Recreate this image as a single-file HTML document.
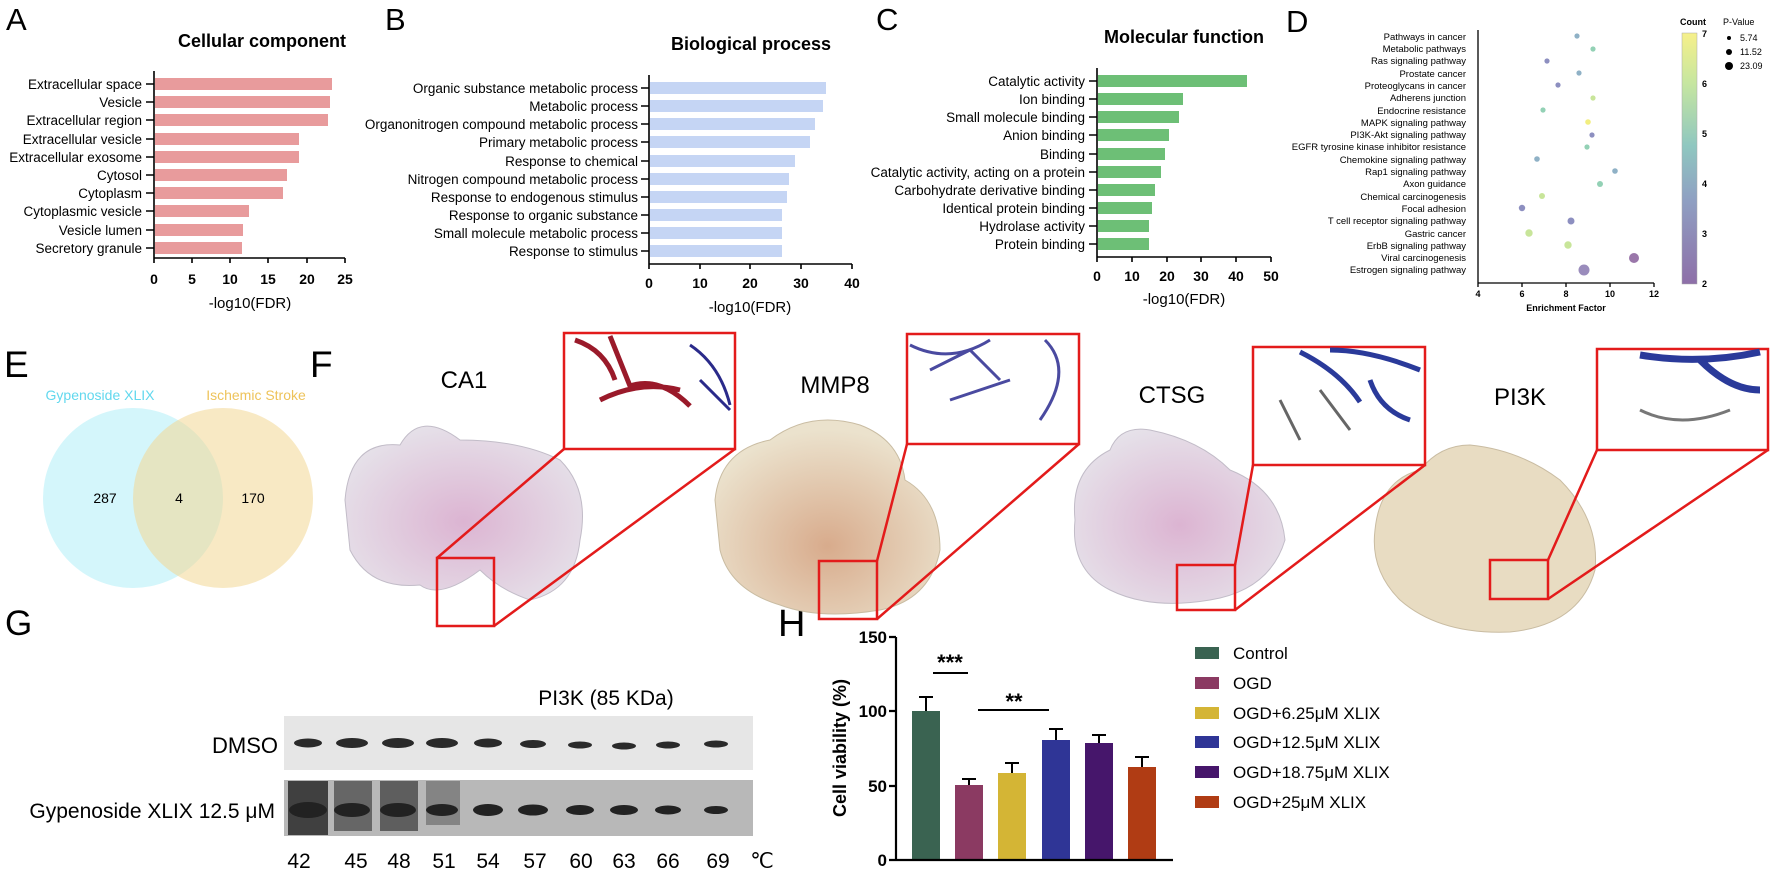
<!DOCTYPE html>
<html><head><meta charset="utf-8"><style>
html,body{margin:0;padding:0;background:#fff;overflow:hidden;}
svg{display:block;font-family:"Liberation Sans",Arial,sans-serif;}
</style></head><body>
<svg width="1772" height="876" viewBox="0 0 1772 876" xmlns="http://www.w3.org/2000/svg">
<defs>
<linearGradient id="cb" x1="0" y1="1" x2="0" y2="0">
<stop offset="0" stop-color="#8e6fa8"/><stop offset="0.33" stop-color="#8f9fc2"/>
<stop offset="0.55" stop-color="#8fc7c0"/><stop offset="0.8" stop-color="#c6e6a0"/><stop offset="1" stop-color="#f6f08a"/>
</linearGradient>
<radialGradient id="lav" cx="0.5" cy="0.55" r="0.6"><stop offset="0" stop-color="#dcb4d2"/><stop offset="1" stop-color="#e6e3ea"/></radialGradient>
<radialGradient id="beige" cx="0.5" cy="0.65" r="0.6"><stop offset="0" stop-color="#d8ab8c"/><stop offset="1" stop-color="#ebe2cd"/></radialGradient>
</defs>
<g font-size="31" fill="#000">
<text x="6" y="30">A</text><text x="385" y="30">B</text><text x="876" y="30">C</text><text x="1286" y="32">D</text>
<text x="4" y="377" font-size="37">E</text><text x="310" y="377" font-size="37">F</text><text x="5" y="635" font-size="35">G</text><text x="778" y="636" font-size="38">H</text>
</g>
<!-- Panel A -->
<text x="262" y="47" font-size="18" font-weight="bold" text-anchor="middle">Cellular component</text>
<g fill="#e89b9c">
<rect x="155" y="78" width="177" height="12"/><rect x="155" y="96" width="175" height="12"/><rect x="155" y="114" width="173" height="12"/>
<rect x="155" y="133" width="144" height="12"/><rect x="155" y="151" width="144" height="12"/><rect x="155" y="169" width="132" height="12"/>
<rect x="155" y="187" width="128" height="12"/><rect x="155" y="205" width="94" height="12"/><rect x="155" y="224" width="88" height="12"/><rect x="155" y="242" width="87" height="12"/>
</g>
<g font-size="13.5" text-anchor="end">
<text x="142" y="89">Extracellular space</text><text x="142" y="107">Vesicle</text><text x="142" y="125">Extracellular region</text>
<text x="142" y="144">Extracellular vesicle</text><text x="142" y="162">Extracellular exosome</text><text x="142" y="180">Cytosol</text>
<text x="142" y="198">Cytoplasm</text><text x="142" y="216">Cytoplasmic vesicle</text><text x="142" y="235">Vesicle lumen</text><text x="142" y="253">Secretory granule</text>
</g>
<path d="M154 71V258H345M154 258v5M192 258v5M230 258v5M268 258v5M307 258v5M345 258v5" stroke="#000" stroke-width="1.6" fill="none"/>
<path d="M146 84h8M146 102h8M146 120h8M146 139h8M146 157h8M146 175h8M146 193h8M146 211h8M146 230h8M146 248h8" stroke="#000" stroke-width="1.4"/>
<g font-size="14" font-weight="bold" text-anchor="middle"><text x="154" y="284">0</text><text x="192" y="284">5</text><text x="230" y="284">10</text><text x="268" y="284">15</text><text x="307" y="284">20</text><text x="345" y="284">25</text></g>
<text x="250" y="308" font-size="15" text-anchor="middle">-log10(FDR)</text>
<!-- Panel B -->
<text x="751" y="50" font-size="18" font-weight="bold" text-anchor="middle">Biological process</text>
<g fill="#c5d5f4">
<rect x="650" y="82" width="176" height="12"/><rect x="650" y="100" width="173" height="12"/><rect x="650" y="118" width="165" height="12"/>
<rect x="650" y="136" width="160" height="12"/><rect x="650" y="155" width="145" height="12"/><rect x="650" y="173" width="139" height="12"/>
<rect x="650" y="191" width="137" height="12"/><rect x="650" y="209" width="132" height="12"/><rect x="650" y="227" width="132" height="12"/><rect x="650" y="245" width="132" height="12"/>
</g>
<g font-size="13.5" text-anchor="end">
<text x="638" y="93">Organic substance metabolic process</text><text x="638" y="111">Metabolic process</text><text x="638" y="129">Organonitrogen compound metabolic process</text>
<text x="638" y="147">Primary metabolic process</text><text x="638" y="166">Response to chemical</text><text x="638" y="184">Nitrogen compound metabolic process</text>
<text x="638" y="202">Response to endogenous stimulus</text><text x="638" y="220">Response to organic substance</text><text x="638" y="238">Small molecule metabolic process</text><text x="638" y="256">Response to stimulus</text>
</g>
<path d="M649 75V264H852M649 264v5M700 264v5M750 264v5M801 264v5M852 264v5" stroke="#000" stroke-width="1.6" fill="none"/>
<path d="M641 88h8M641 106h8M641 124h8M641 142h8M641 161h8M641 179h8M641 197h8M641 215h8M641 233h8M641 251h8" stroke="#000" stroke-width="1.4"/>
<g font-size="14" font-weight="bold" text-anchor="middle"><text x="649" y="288">0</text><text x="700" y="288">10</text><text x="750" y="288">20</text><text x="801" y="288">30</text><text x="852" y="288">40</text></g>
<text x="750" y="312" font-size="15" text-anchor="middle">-log10(FDR)</text>
<!-- Panel C -->
<text x="1184" y="43" font-size="18" font-weight="bold" text-anchor="middle">Molecular function</text>
<g fill="#6dbf76">
<rect x="1098" y="75" width="149" height="12"/><rect x="1098" y="93" width="85" height="12"/><rect x="1098" y="111" width="81" height="12"/>
<rect x="1098" y="129" width="71" height="12"/><rect x="1098" y="148" width="67" height="12"/><rect x="1098" y="166" width="63" height="12"/>
<rect x="1098" y="184" width="57" height="12"/><rect x="1098" y="202" width="54" height="12"/><rect x="1098" y="220" width="51" height="12"/><rect x="1098" y="238" width="51" height="12"/>
</g>
<g font-size="13.5" text-anchor="end">
<text x="1085" y="86">Catalytic activity</text><text x="1085" y="104">Ion binding</text><text x="1085" y="122">Small molecule binding</text>
<text x="1085" y="140">Anion binding</text><text x="1085" y="159">Binding</text><text x="1085" y="177">Catalytic activity, acting on a protein</text>
<text x="1085" y="195">Carbohydrate derivative binding</text><text x="1085" y="213">Identical protein binding</text><text x="1085" y="231">Hydrolase activity</text><text x="1085" y="249">Protein binding</text>
</g>
<path d="M1097 68V257H1271M1097 257v5M1132 257v5M1167 257v5M1201 257v5M1236 257v5M1271 257v5" stroke="#000" stroke-width="1.6" fill="none"/>
<path d="M1089 81h8M1089 99h8M1089 117h8M1089 135h8M1089 154h8M1089 172h8M1089 190h8M1089 208h8M1089 226h8M1089 244h8" stroke="#000" stroke-width="1.4"/>
<g font-size="14" font-weight="bold" text-anchor="middle"><text x="1097" y="281">0</text><text x="1132" y="281">10</text><text x="1167" y="281">20</text><text x="1201" y="281">30</text><text x="1236" y="281">40</text><text x="1271" y="281">50</text></g>
<text x="1184" y="304" font-size="15" text-anchor="middle">-log10(FDR)</text>
<!-- Panel D -->
<g font-size="9.5" text-anchor="end">
<text x="1466" y="40">Pathways in cancer</text><text x="1466" y="52">Metabolic pathways</text><text x="1466" y="64">Ras signaling pathway</text><text x="1466" y="77">Prostate cancer</text>
<text x="1466" y="89">Proteoglycans in cancer</text><text x="1466" y="101">Adherens junction</text><text x="1466" y="114">Endocrine resistance</text><text x="1466" y="126">MAPK signaling pathway</text>
<text x="1466" y="138">PI3K-Akt signaling pathway</text><text x="1466" y="150">EGFR tyrosine kinase inhibitor resistance</text><text x="1466" y="163">Chemokine signaling pathway</text><text x="1466" y="175">Rap1 signaling pathway</text>
<text x="1466" y="187">Axon guidance</text><text x="1466" y="200">Chemical carcinogenesis</text><text x="1466" y="212">Focal adhesion</text><text x="1466" y="224">T cell receptor signaling pathway</text>
<text x="1466" y="237">Gastric cancer</text><text x="1466" y="249">ErbB signaling pathway</text><text x="1466" y="261">Viral carcinogenesis</text><text x="1466" y="273">Estrogen signaling pathway</text>
</g>
<path d="M1478 30V283H1654M1478 283v4M1522 283v4M1566 283v4M1610 283v4M1654 283v4" stroke="#000" stroke-width="1.3" fill="none"/>
<g font-size="9" font-weight="bold" text-anchor="middle"><text x="1478" y="297">4</text><text x="1522" y="297">6</text><text x="1566" y="297">8</text><text x="1610" y="297">10</text><text x="1654" y="297">12</text></g>
<text x="1566" y="311" font-size="9" font-weight="bold" text-anchor="middle">Enrichment Factor</text>
<g>
<circle cx="1577" cy="36" r="2.6" fill="#8fb1c6"/><circle cx="1593" cy="49" r="2.6" fill="#93d1b5"/><circle cx="1547" cy="61" r="2.6" fill="#8d8fc0"/>
<circle cx="1579" cy="73" r="2.6" fill="#8fb1c6"/><circle cx="1558" cy="85" r="2.6" fill="#8d8fc0"/><circle cx="1593" cy="98" r="2.6" fill="#c8e59a"/>
<circle cx="1543" cy="110" r="2.6" fill="#93d1b5"/><circle cx="1588" cy="122" r="2.8" fill="#f2ee80"/><circle cx="1592" cy="135" r="2.6" fill="#8d8fc0"/>
<circle cx="1587" cy="147" r="2.6" fill="#93d1b5"/><circle cx="1537" cy="159" r="2.8" fill="#8fb1c6"/><circle cx="1615" cy="171" r="2.8" fill="#8fb1c6"/>
<circle cx="1600" cy="184" r="3" fill="#93d1b5"/><circle cx="1542" cy="196" r="3" fill="#c8e59a"/><circle cx="1522" cy="208" r="3.2" fill="#8d8fc0"/>
<circle cx="1571" cy="221" r="3.5" fill="#8d8fc0"/><circle cx="1529" cy="233" r="3.7" fill="#c8e59a"/><circle cx="1568" cy="245" r="3.7" fill="#c8e59a"/>
<circle cx="1634" cy="258" r="5" fill="#9a77aa"/><circle cx="1584" cy="270" r="5.5" fill="#9a8cbc"/>
</g>
<rect x="1682" y="33" width="15" height="251" fill="url(#cb)" stroke="#aaa" stroke-width="0.5"/>
<g font-size="9" font-weight="bold"><text x="1680" y="25">Count</text><text x="1702" y="37">7</text><text x="1702" y="87">6</text><text x="1702" y="137">5</text><text x="1702" y="187">4</text><text x="1702" y="237">3</text><text x="1702" y="287">2</text></g>
<g font-size="9"><text x="1723" y="25">P-Value</text><circle cx="1729" cy="38" r="2"/><text x="1740" y="41">5.74</text><circle cx="1729" cy="52" r="3"/><text x="1740" y="55">11.52</text><circle cx="1729" cy="66" r="4"/><text x="1740" y="69">23.09</text></g>
<!-- Panel E -->
<circle cx="133" cy="498" r="90" fill="#d4f6fb"/>
<circle cx="223" cy="498" r="90" fill="#f3d794" opacity="0.55"/>
<text x="100" y="400" font-size="14" fill="#62d8ee" text-anchor="middle">Gypenoside XLIX</text>
<text x="256" y="400" font-size="14" fill="#eec35a" text-anchor="middle">Ischemic Stroke</text>
<g font-size="14" text-anchor="middle"><text x="105" y="503">287</text><text x="179" y="503">4</text><text x="253" y="503">170</text></g>
<!-- Panel F -->
<g font-size="24" text-anchor="middle"><text x="464" y="388">CA1</text><text x="835" y="393">MMP8</text><text x="1172" y="403">CTSG</text><text x="1520" y="405">PI3K</text></g>
<path d="M345 500 Q350 440 400 445 Q420 410 460 440 Q520 440 560 460 Q590 490 580 540 Q575 590 530 600 Q500 590 480 570 Q440 600 420 585 Q370 590 350 550 Z" fill="url(#lav)" stroke="#c2bcc8"/>
<path d="M715 500 Q720 450 770 440 Q810 410 860 425 Q900 440 905 480 Q940 500 940 550 Q930 600 880 610 Q820 620 780 605 Q730 590 720 550 Z" fill="url(#beige)" stroke="#c9bca2"/>
<path d="M1075 520 Q1070 470 1110 450 Q1120 425 1150 430 Q1200 440 1230 470 Q1280 490 1285 540 Q1270 590 1210 600 Q1150 610 1110 590 Q1070 570 1075 520 Z" fill="url(#lav)" stroke="#c2bcc8"/>
<path d="M1375 530 Q1380 480 1420 470 Q1440 445 1470 445 Q1520 450 1560 480 Q1600 520 1595 570 Q1580 625 1510 632 Q1440 635 1400 600 Q1370 570 1375 530 Z" fill="#e8dcc2" stroke="#c9bca2"/>
<g fill="#fff" stroke="#e31b1b" stroke-width="2.5">
<rect x="564" y="333" width="171" height="116"/><rect x="907" y="334" width="172" height="110"/><rect x="1253" y="347" width="172" height="118"/><rect x="1597" y="349" width="171" height="101"/>
</g>
<path d="M575 340q30 10 40 40M610 336l20 50q30 -10 60 20M600 400q40 -20 80 -10" stroke="#9a1a2a" stroke-width="5" fill="none"/>
<path d="M690 345q30 20 40 60M700 380l30 30" stroke="#2a2a8a" stroke-width="3" fill="none"/>
<path d="M910 345q40 20 80 -5M930 370l40 -20 30 30M950 400l60 -20" stroke="#4a4aa0" stroke-width="3" fill="none"/>
<path d="M1045 340q30 30 -5 80" stroke="#4a4aa0" stroke-width="3" fill="none"/>
<path d="M1300 352q40 20 60 50M1330 350q40 0 90 20M1370 380q10 30 40 40" stroke="#2a3a9a" stroke-width="5" fill="none"/>
<path d="M1280 400l20 40M1320 390l30 40" stroke="#666" stroke-width="3" fill="none"/>
<path d="M1640 355q60 10 120 -3M1700 360q30 30 60 30" stroke="#2a3a9a" stroke-width="7" fill="none"/>
<path d="M1640 410q40 20 90 0" stroke="#777" stroke-width="3" fill="none"/>
<g fill="none" stroke="#e31b1b" stroke-width="2.5">
<rect x="437" y="558" width="57" height="68"/><path d="M437 558L564 449M494 626L735 449"/>
<rect x="819" y="561" width="58" height="58"/><path d="M877 561L907 444M877 619L1079 444"/>
<rect x="1177" y="565" width="58" height="45"/><path d="M1235 565L1253 465M1235 610L1425 465"/>
<rect x="1490" y="560" width="58" height="39"/><path d="M1548 560L1597 450M1548 599L1768 450"/>
</g>
<!-- Panel G -->
<text x="606" y="705" font-size="21" text-anchor="middle">PI3K (85 KDa)</text>
<rect x="284" y="716" width="469" height="54" fill="#e6e6e6"/>
<rect x="284" y="780" width="469" height="56" fill="#b8b8b8"/>
<g fill="#2a2a2a">
<ellipse cx="308" cy="743" rx="14" ry="4.5"/><ellipse cx="352" cy="743" rx="16" ry="5"/><ellipse cx="398" cy="743" rx="16" ry="5"/><ellipse cx="442" cy="743" rx="16" ry="5"/><ellipse cx="488" cy="743" rx="14" ry="4.5"/>
<ellipse cx="533" cy="744" rx="13" ry="4"/><ellipse cx="580" cy="745" rx="12" ry="3.5"/><ellipse cx="624" cy="746" rx="12" ry="3.5"/><ellipse cx="668" cy="745" rx="12" ry="3.5"/><ellipse cx="716" cy="744" rx="12" ry="3.5"/>
</g>
<g fill="#222">
<rect x="288" y="781" width="40" height="54" opacity="0.8"/><rect x="334" y="781" width="38" height="50" opacity="0.55"/><rect x="380" y="781" width="38" height="50" opacity="0.6"/><rect x="426" y="781" width="34" height="44" opacity="0.35"/>
<ellipse cx="308" cy="810" rx="19" ry="8"/><ellipse cx="352" cy="810" rx="18" ry="7"/><ellipse cx="398" cy="810" rx="18" ry="7"/><ellipse cx="442" cy="810" rx="16" ry="6"/><ellipse cx="488" cy="810" rx="15" ry="6"/><ellipse cx="533" cy="810" rx="15" ry="5.5"/><ellipse cx="580" cy="810" rx="14" ry="5"/><ellipse cx="624" cy="810" rx="14" ry="5"/><ellipse cx="668" cy="810" rx="13" ry="4.5"/><ellipse cx="716" cy="810" rx="12" ry="4"/>
</g>
<text x="278" y="753" font-size="22" text-anchor="end">DMSO</text>
<text x="275" y="818" font-size="21" text-anchor="end">Gypenoside XLIX 12.5 μM</text>
<g font-size="21" text-anchor="middle"><text x="299" y="868">42</text><text x="356" y="868">45</text><text x="399" y="868">48</text><text x="444" y="868">51</text><text x="488" y="868">54</text><text x="535" y="868">57</text><text x="581" y="868">60</text><text x="624" y="868">63</text><text x="668" y="868">66</text><text x="718" y="868">69</text><text x="762" y="868" font-family="Liberation Serif,serif">℃</text></g>
<!-- Panel H -->
<g>
<rect x="912" y="711" width="28" height="149" fill="#3a6351"/>
<rect x="955" y="785" width="28" height="75" fill="#8b3a62"/>
<rect x="998" y="773" width="28" height="87" fill="#d4b535"/>
<rect x="1042" y="740" width="28" height="120" fill="#2f3596"/>
<rect x="1085" y="743" width="28" height="117" fill="#46166b"/>
<rect x="1128" y="767" width="28" height="93" fill="#b03c14"/>
</g>
<path d="M926 711V697M919 697h14M969 785V779M962 779h14M1012 773V763M1005 763h14M1056 740V729M1049 729h14M1099 743V735M1092 735h14M1142 767V757M1135 757h14" stroke="#000" stroke-width="2" fill="none"/>
<path d="M896 637V860H1173M889 637h7M889 711h7M889 786h7M889 860h7" stroke="#000" stroke-width="2.2" fill="none"/>
<g font-size="17" font-weight="bold" text-anchor="end"><text x="887" y="643">150</text><text x="887" y="717">100</text><text x="887" y="792">50</text><text x="887" y="866">0</text></g>
<text transform="translate(846,748) rotate(-90)" font-size="18" font-weight="bold" text-anchor="middle">Cell viability (%)</text>
<path d="M933 673h35M978 710h71" stroke="#000" stroke-width="2"/>
<text x="950" y="670" font-size="22" font-weight="bold" text-anchor="middle">***</text>
<text x="1014" y="709" font-size="22" font-weight="bold" text-anchor="middle">**</text>
<g>
<rect x="1195" y="647" width="24" height="12" fill="#3a6351"/><rect x="1195" y="677" width="24" height="12" fill="#8b3a62"/><rect x="1195" y="707" width="24" height="12" fill="#d4b535"/>
<rect x="1195" y="736" width="24" height="12" fill="#2f3596"/><rect x="1195" y="766" width="24" height="12" fill="#46166b"/><rect x="1195" y="796" width="24" height="12" fill="#b03c14"/>
</g>
<g font-size="17"><text x="1233" y="659">Control</text><text x="1233" y="689">OGD</text><text x="1233" y="719">OGD+6.25μM XLIX</text><text x="1233" y="748">OGD+12.5μM XLIX</text><text x="1233" y="778">OGD+18.75μM XLIX</text><text x="1233" y="808">OGD+25μM XLIX</text></g>
</svg>
</body></html>
